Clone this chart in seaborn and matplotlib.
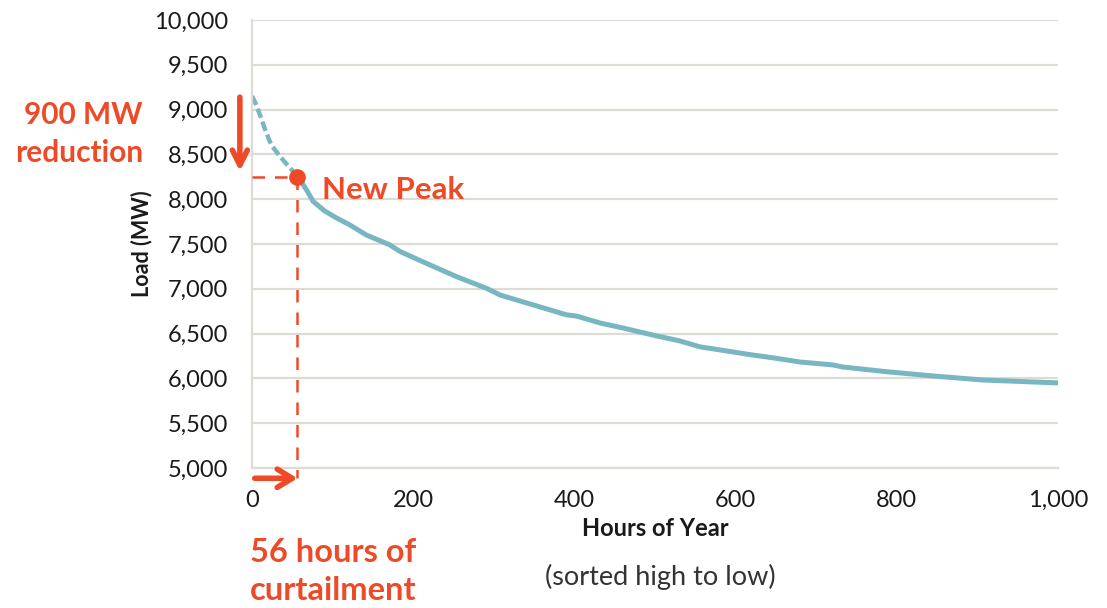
import matplotlib
matplotlib.use("Agg")
import matplotlib.pyplot as plt
import seaborn as sns
import pandas as pd

# Sorted hourly load (load duration curve), top 1,000 hours
hours = [0, 4, 10, 17, 24, 35, 47, 56, 63, 68, 76, 90, 105, 120, 142, 171, 184,
         205, 225, 254, 291, 308, 349, 390, 403, 432, 460, 502, 530, 556, 597,
         618, 650, 680, 721, 733, 787, 845, 907, 969, 1000]
load_mw = [9150, 9080, 8940, 8760, 8605, 8475, 8350, 8265, 8170, 8100, 7975,
           7870, 7790, 7720, 7600, 7490, 7415, 7330, 7250, 7135, 7005, 6930,
           6820, 6710, 6695, 6618, 6563, 6474, 6420, 6352, 6295, 6265, 6225,
           6183, 6150, 6127, 6075, 6027, 5982, 5960, 5950]

x_ticks = [0, 200, 400, 600, 800, 1000]
y_ticks = [5000, 5500, 6000, 6500, 7000, 7500, 8000, 8500, 9000, 9500, 10000]

peak_load = 9150
reduction_mw = 900
curtail_hours = 56
new_peak = peak_load - reduction_mw

CURVE = "#78b7c2"
ACCENT = "#ee4a27"
GRID = "#dcdbd5"
TEXT = "#1a1a1a"

sns.set_theme(style="white")
plt.rcParams["font.family"] = ["Lato", "DejaVu Sans"]

df = pd.DataFrame({"hour": hours, "load": load_mw})
head = df[df["hour"] <= curtail_hours]
tail = df[df["hour"] >= curtail_hours]

fig = plt.figure(figsize=(11.07, 6.08), dpi=100)
ax = fig.add_axes([0.2276, 0.2303, 0.7281, 0.7368])

# steep top of the curve drawn broken, the rest solid
sns.lineplot(data=head, x="hour", y="load", ax=ax, color=CURVE, lw=3.2,
             linestyle=(0, (2.2, 0.9)))
sns.lineplot(data=tail, x="hour", y="load", ax=ax, color=CURVE, lw=3.6)

ax.set_xlim(0, 1000)
ax.set_ylim(5000, 10000)
ax.set_xticks(x_ticks)
ax.set_yticks(y_ticks)
ax.set_xticklabels([f"{v:,}" for v in x_ticks])
ax.set_yticklabels([f"{v:,}" for v in y_ticks])
ax.tick_params(axis="y", length=6, width=1.5, color=GRID, pad=11,
               labelsize=17, labelcolor=TEXT)
ax.tick_params(axis="x", length=5, width=1.5, color=GRID, pad=11,
               labelsize=17, labelcolor=TEXT)
ax.yaxis.grid(True, color=GRID, lw=1.6)
ax.xaxis.grid(False)
for side in ["top", "right"]:
    ax.spines[side].set_visible(False)
ax.spines["left"].set_color(GRID)
ax.spines["left"].set_linewidth(1.6)
ax.spines["bottom"].set_color(GRID)
ax.spines["bottom"].set_linewidth(1.6)
ax.set_axisbelow(True)

ax.set_xlabel("Hours of Year", fontsize=17, fontweight="bold", color=TEXT,
              labelpad=4)
ax.set_ylabel("Load (MW)", fontsize=15.5, fontweight="bold", color=TEXT)
ax.yaxis.set_label_coords(-0.123, 0.50)

# new-peak guides
ax.plot([0, curtail_hours], [new_peak, new_peak], color=ACCENT, lw=1.8,
        dashes=(5, 4), clip_on=False, zorder=4)
ax.plot([curtail_hours, curtail_hours], [new_peak, 4890], color=ACCENT,
        lw=1.8, dashes=(5, 4), clip_on=False, zorder=4)
ax.plot([curtail_hours], [new_peak], "o", color=ACCENT, ms=11, zorder=5,
        clip_on=False)
ax.text(curtail_hours + 31, new_peak - 150, "New Peak", color=ACCENT,
        fontsize=22.5, fontweight="bold", va="center", ha="left")

# peak reduction arrow
ax.annotate("", xy=(-15, new_peak + 30), xytext=(-15, peak_load + 20),
            xycoords="data", textcoords="data", annotation_clip=False,
            arrowprops=dict(arrowstyle="->, head_length=0.9, head_width=0.45",
                            color=ACCENT, lw=4))
# curtailment hours arrow
ax.annotate("", xy=(curtail_hours + 4, 4885), xytext=(0, 4885),
            xycoords="data", textcoords="data", annotation_clip=False,
            arrowprops=dict(arrowstyle="->, head_length=0.9, head_width=0.55",
                            color=ACCENT, lw=4))

fig.text(143 / 1107, 1 - 115 / 608, f"{reduction_mw} MW", color=ACCENT,
         fontsize=21.5, fontweight="bold", ha="right", va="center")
fig.text(143 / 1107, 1 - 153 / 608, "reduction", color=ACCENT,
         fontsize=21.5, fontweight="bold", ha="right", va="center")
fig.text(250 / 1107, 1 - 552 / 608, f"{curtail_hours} hours of", color=ACCENT,
         fontsize=23.5, fontweight="bold", ha="left", va="center")
fig.text(250 / 1107, 1 - 591 / 608, "curtailment", color=ACCENT,
         fontsize=23.5, fontweight="bold", ha="left", va="center")
fig.text(660 / 1107, 1 - 577 / 608, "(sorted high to low)", color="#333333",
         fontsize=19.5, ha="center", va="center")

fig.savefig("out.png", dpi=100, facecolor="white")
